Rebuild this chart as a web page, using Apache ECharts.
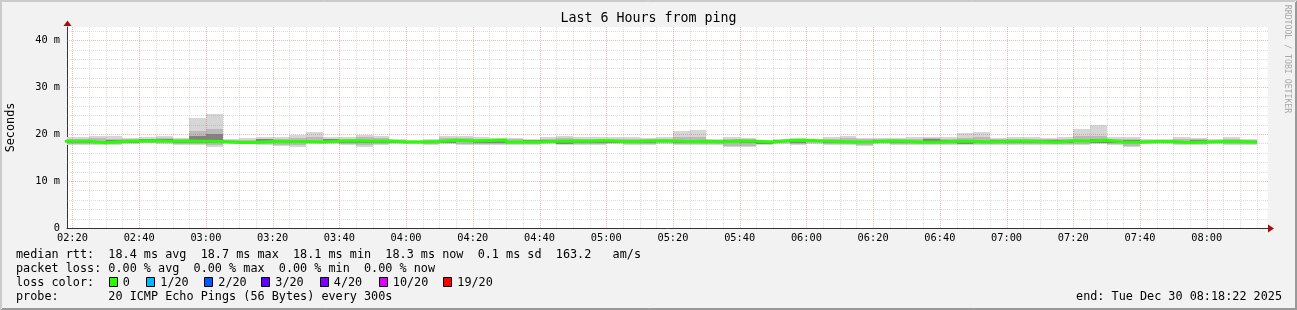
<!DOCTYPE html>
<html><head><meta charset="utf-8">
<script src="https://cdn.jsdelivr.net/npm/echarts@6/dist/echarts.min.js"></script>
<style>html,body{margin:0;padding:0;background:#f2f2f2;}#c{width:1297px;height:310px;}</style>
</head><body><div id="c"></div>
<script>
const FONT = 'DejaVu Sans Mono';
const titleText = 'Last 6 Hours from ping';
const axisStart = '02:18:22';
const axisEnd = '08:18:22';
const firstBinStart = '02:15';
const binMinutes = 5;
const xLabelTimes = ['02:20','02:40','03:00','03:20','03:40','04:00','04:20','04:40','05:00','05:20','05:40','06:00','06:20','06:40','07:00','07:20','07:40','08:00'];
const yLabelValues = [0, 10, 20, 30, 40];
const yMax = 42.8;

// median RTT per 5-minute bin (ms)
const medianRtt = [
 18.45,18.45,18.15,18.4,18.5,18.6,18.45,18.5,18.45,18.4,
 18.2,18.2,18.45,18.4,18.4,18.3,18.5,18.6,18.45,18.55,
 18.3,18.3,18.4,18.7,18.5,18.65,18.75,18.3,18.3,18.45,
 18.5,18.45,18.65,18.4,18.4,18.6,18.5,18.4,18.45,18.35,
 18.5,18.45,18.3,18.65,18.7,18.5,18.4,18.3,18.35,18.55,
 18.45,18.25,18.3,18.45,18.45,18.3,18.45,18.55,18.4,18.25,
 18.6,18.55,18.7,18.3,18.25,18.4,18.4,18.2,18.3,18.4,
 18.4,18.3];
// smoke: slowest / fastest ping per bin (ms)
const smokeMax = [
 19.3,19.3,19.5,19.5,19.15,19.3,19.5,19.15,23.4,24.25,
 18.95,19.15,19.3,19.3,19.85,20.35,19.3,19.3,19.85,19.5,
 18.95,18.8,18.95,19.5,19.5,19.3,19.15,19.15,18.95,19.3,
 19.5,19.35,19.3,19.3,19.3,19.15,19.3,20.7,20.9,18.95,
 19.35,19.15,18.8,18.95,19.15,18.95,19.3,19.5,19.15,19.15,
 19.15,19.3,19.35,19.3,20.2,20.4,19.15,19.3,19.3,19.15,
 19.3,21.1,21.85,19.3,19.3,18.95,18.95,19.3,19.15,18.95,
 19.3,18.95];
const smokeMin = [
 17.7,17.7,17.6,17.7,17.9,18.0,17.9,17.7,17.6,17.15,
 17.9,17.9,17.6,17.4,17.15,17.9,17.95,17.75,17.15,17.75,
 17.9,17.9,17.75,17.9,17.75,17.6,17.75,17.75,17.6,17.9,
 17.75,17.75,17.75,17.9,17.6,17.75,17.9,17.75,17.75,17.75,
 17.15,17.15,17.75,17.9,17.75,17.9,17.6,17.75,17.4,17.9,
 17.75,17.6,17.6,17.75,17.75,17.6,17.75,17.75,17.75,17.75,
 17.75,17.75,17.9,17.75,17.15,17.9,17.9,17.75,17.6,17.9,
 17.75,17.6];
// inner smoke layers
const midHigh = [
 19.0,19.0,19.1,19.0,18.9,19.0,19.2,18.9,20.6,21.1,
 18.7,18.8,19.0,19.0,19.2,19.3,19.0,19.0,19.3,19.1,
 18.7,18.6,18.7,19.1,19.1,19.0,19.0,18.9,18.8,19.0,
 19.1,19.0,19.0,19.0,19.0,18.9,19.0,19.3,19.4,18.8,
 19.0,18.9,18.6,18.8,18.95,18.8,19.0,19.1,18.9,18.9,
 18.9,19.0,19.1,19.0,19.2,19.3,18.9,19.0,19.0,18.9,
 19.0,19.5,19.6,19.0,19.0,18.7,18.7,19.0,18.9,18.7,
 19.0,18.7];
const midLow = [
 17.9,17.9,17.8,17.9,18.0,18.2,18.1,17.9,17.9,17.6,
 18.0,18.0,17.9,17.7,17.6,18.0,18.1,17.9,17.6,17.9,
 18.0,18.0,17.9,18.0,17.9,17.8,17.9,17.9,17.8,18.0,
 17.9,17.9,17.9,18.0,17.8,17.9,18.0,17.9,17.9,17.9,
 17.5,17.5,17.9,18.0,17.9,18.0,17.8,17.9,17.7,18.0,
 17.9,17.8,17.8,17.9,17.9,17.8,17.9,17.9,17.9,17.9,
 17.9,17.9,18.0,17.9,17.5,18.0,18.0,17.9,17.8,18.0,
 17.9,17.8];
const coreHigh = [
 18.7,18.7,18.5,18.7,18.6,18.9,18.9,18.7,19.5,20.1,
 18.35,18.3,19.0,18.6,18.6,18.5,18.9,18.7,18.7,18.7,
 18.5,18.5,18.6,18.8,18.7,18.8,18.9,18.5,18.75,18.7,
 18.6,18.7,18.8,18.6,18.6,18.8,18.7,18.6,18.65,18.5,
 18.7,18.6,18.5,18.8,18.9,18.7,18.6,18.5,18.55,18.75,
 18.65,18.45,19.0,18.65,18.65,18.5,18.7,18.7,18.6,18.8,
 18.75,18.75,18.9,18.5,18.8,18.6,18.6,18.5,18.8,18.6,
 18.8,18.5];
const coreLow = [
 18.2,18.2,18.0,18.2,18.0,18.4,18.3,18.2,18.2,18.0,
 18.0,18.0,18.2,18.2,18.2,18.2,18.3,18.1,18.2,18.1,
 18.1,18.1,18.2,18.1,18.3,18.1,18.0,18.1,18.1,18.2,
 17.95,18.2,18.05,18.2,18.2,18.15,18.3,18.2,18.2,18.1,
 18.3,18.1,17.95,18.4,18.2,18.3,18.2,18.1,18.15,18.35,
 18.2,18.05,18.1,18.2,17.95,18.1,18.2,18.0,18.2,18.05,
 18.1,18.3,18.15,18.1,18.05,18.2,18.2,18.0,18.1,18.2,
 18.05,18.1];

const legendRows = [
 'median rtt:  18.4 ms avg  18.7 ms max  18.1 ms min  18.3 ms now  0.1 ms sd  163.2   am/s',
 'packet loss: 0.00 % avg  0.00 % max  0.00 % min  0.00 % now',
 'loss color:',
 'probe:       20 ICMP Echo Pings (56 Bytes) every 300s'
];
const lossLabels = ['0','1/20','2/20','3/20','4/20','10/20','19/20'];
const lossColors = ['#26ff00','#00b8ff','#0059ff','#5e00ff','#7e00ff','#dd00ff','#ff0000'];
const endText = 'end: Tue Dec 30 08:18:22 2025';
const watermark = 'RRDTOOL / TOBI OETIKER';

function toMin(s){ const p = s.split(':').map(Number); return p[0]*60 + p[1] + (p[2]||0)/60; }
function fmt(v){ const h = Math.floor(v/60), m = Math.round(v - h*60); return String(h).padStart(2,'0')+':'+String(m).padStart(2,'0'); }

const xMin = toMin(axisStart), xMax = toMin(axisEnd);
const bin0 = toMin(firstBinStart);
const smokeData = medianRtt.map((m, j) => [bin0 + j*binMinutes, bin0 + (j+1)*binMinutes,
  smokeMin[j], smokeMax[j], midLow[j], midHigh[j], coreLow[j], coreHigh[j]]);
const medianData = medianRtt.map((m, j) => [bin0 + j*binMinutes, m]);
medianData.push([bin0 + medianRtt.length*binMinutes, medianRtt[medianRtt.length-1]]);

// grid lines: vertical every 5 min (major 20 min), horizontal every 2 ms (major 10 ms)
const gridData = [];
for (let t = Math.ceil(xMin/5)*5; t < xMax; t += 5) gridData.push([0, t, t % 20 === 0 ? 1 : 0]);
for (let v = 2; v < yMax; v += 2) gridData.push([1, v, v % 10 === 0 ? 1 : 0]);

const L = 67, T = 27, W = 1201, H = 201;
const chart = echarts.init(document.getElementById('c'), null, {renderer: 'canvas'});

const graphics = [
  {type:'rect', shape:{x:0,y:0,width:1297,height:310}, style:{fill:'#f2f2f2'}, z:-10, silent:true},
  {type:'line', shape:{x1:0,y1:0.5,x2:1297,y2:0.5}, style:{stroke:'#cbcbcb',lineWidth:1}},
  {type:'line', shape:{x1:0,y1:1.5,x2:1295,y2:1.5}, style:{stroke:'#cbcbcb',lineWidth:1}},
  {type:'line', shape:{x1:0.5,y1:0,x2:0.5,y2:310}, style:{stroke:'#cbcbcb',lineWidth:1}},
  {type:'line', shape:{x1:1.5,y1:0,x2:1.5,y2:308}, style:{stroke:'#cbcbcb',lineWidth:1}},
  {type:'line', shape:{x1:1,y1:309.5,x2:1297,y2:309.5}, style:{stroke:'#999999',lineWidth:1}},
  {type:'line', shape:{x1:2,y1:308.5,x2:1297,y2:308.5}, style:{stroke:'#999999',lineWidth:1}},
  {type:'line', shape:{x1:1296.5,y1:1,x2:1296.5,y2:310}, style:{stroke:'#999999',lineWidth:1}},
  {type:'line', shape:{x1:1295.5,y1:2,x2:1295.5,y2:310}, style:{stroke:'#999999',lineWidth:1}},
  {type:'text', x:648.5, y:19, style:{text:titleText, font:'13.3px "'+FONT+'"', fill:'#000', align:'center', verticalAlign:'middle', textAlign:'center', textVerticalAlign:'middle'}},
  {type:'text', x:11, y:127.5, rotation:Math.PI/2, style:{text:'Seconds', font:'11.8px "'+FONT+'"', fill:'#000', align:'center', verticalAlign:'middle', textAlign:'center', textVerticalAlign:'middle'}},
  {type:'text', x:1287, y:59, rotation:-Math.PI/2, style:{text:watermark, font:'8.2px "'+FONT+'"', fill:'#a8a8a8', align:'center', verticalAlign:'middle', textAlign:'center', textVerticalAlign:'middle'}},
  {type:'polygon', shape:{points:[[63.5,26],[67.5,20.5],[71.5,26]]}, style:{fill:'#a01010'}, z:50},
  {type:'polygon', shape:{points:[[1268,224.5],[1274,228.5],[1268,232.5]]}, style:{fill:'#a01010'}, z:50},
  {type:'text', x:1282, y:296.5, style:{text:endText, font:'11.8px "'+FONT+'"', fill:'#000', align:'right', verticalAlign:'middle', textAlign:'right', textVerticalAlign:'middle'}}
];
const rowY = [254.5, 268.5, 282.5, 296.5];
legendRows.forEach((r, i) => graphics.push({type:'text', x:16, y:rowY[i], style:{text:r, font:'11.8px "'+FONT+'"', fill:'#000', align:'left', verticalAlign:'middle', textAlign:'left', textVerticalAlign:'middle'}}));
const boxX = [108.5, 146, 204, 261, 319.5, 378.5, 443];
lossLabels.forEach((lab, i) => {
  graphics.push({type:'rect', shape:{x:Math.round(boxX[i])+0.5, y:277.5, width:8, height:9}, style:{fill:lossColors[i], stroke:'#000', lineWidth:1}});
  graphics.push({type:'text', x:boxX[i]+14.3, y:282.5, style:{text:lab, font:'11.8px "'+FONT+'"', fill:'#000', align:'left', verticalAlign:'middle', textAlign:'left', textVerticalAlign:'middle'}});
});

chart.setOption({
  animation: false,
  backgroundColor: '#f2f2f2',
  grid: {left: L, top: T, width: W, height: H, show: true, backgroundColor: '#ffffff', borderWidth: 0, containLabel: false},
  xAxis: {
    type: 'value', min: xMin, max: xMax,
    axisLine: {show: true, onZero: false, lineStyle: {color: '#333', width: 1}},
    axisTick: {show: false},
    splitLine: {show: false},
    axisLabel: {show: true, customValues: xLabelTimes.map(toMin), formatter: v => fmt(v),
      fontFamily: FONT, fontSize: 10.3, color: '#000', margin: 5}
  },
  yAxis: {
    type: 'value', min: 0, max: yMax,
    axisLine: {show: true, onZero: false, lineStyle: {color: '#333', width: 1}},
    axisTick: {show: false},
    splitLine: {show: false},
    axisLabel: {show: true, customValues: yLabelValues, formatter: v => (v % 10 === 0 ? (v === 0 ? '0' : v + ' m') : ''),
      fontFamily: FONT, fontSize: 10.3, color: '#000', margin: 7}
  },
  graphic: graphics,
  series: [
    {
      type: 'custom', name: 'smoke', z: 2, clip: true, data: smokeData,
      renderItem: function (params, api) {
        const cs = params.coordSys;
        const s = api.value(0), e = api.value(1);
        function band(lo, hi, color) {
          const a = api.coord([s, hi]), b = api.coord([e, lo]);
          let x0 = Math.round(a[0]), x1 = Math.round(b[0]);
          x0 = Math.max(x0, cs.x); x1 = Math.min(x1, cs.x + cs.width);
          const y0 = Math.round(a[1]), y1 = Math.round(b[1]);
          return {type: 'rect', shape: {x: x0, y: y0, width: x1 - x0, height: y1 - y0}, style: {fill: color}};
        }
        return {type: 'group', children: [
          band(api.value(2), api.value(3), '#d6d6d6'),
          band(api.value(4), api.value(5), '#bababa'),
          band(api.value(6), api.value(7), '#828282')
        ]};
      }
    },
    {
      type: 'custom', name: 'grid', z: 3, data: gridData, silent: true,
      renderItem: function (params, api) {
        const cs = params.coordSys;
        const o = api.value(0), v = api.value(1), major = api.value(2);
        const stroke = major ? 'rgba(224,80,80,0.42)' : 'rgba(143,143,143,0.3)';
        if (o === 0) {
          const p = api.coord([v, 0]);
          const x = Math.round(p[0]) + 0.5;
          return {type: 'line', shape: {x1: x, y1: cs.y, x2: x, y2: cs.y + cs.height}, style: {stroke: stroke, lineWidth: 1, lineDash: [1, 1]}};
        }
        const p = api.coord([xMin, v]);
        const y = Math.round(p[1]) + 0.5;
        return {type: 'line', shape: {x1: cs.x, y1: y, x2: cs.x + cs.width, y2: y}, style: {stroke: stroke, lineWidth: 1, lineDash: [1, 1]}};
      }
    },
    {
      type: 'line', name: 'median rtt', z: 4, step: 'end', clip: true, data: medianData,
      showSymbol: false, symbol: 'none', lineStyle: {color: '#26ff00', width: 3}, silent: true
    }
  ]
});
</script></body></html>
